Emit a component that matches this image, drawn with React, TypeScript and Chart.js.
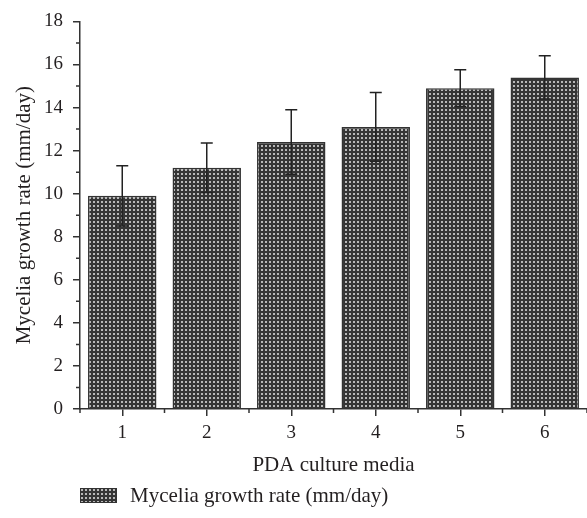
import React, { useEffect, useRef } from "react";
import { Chart, registerables } from "chart.js";

Chart.register(...registerables);

const categories = ["1", "2", "3", "4", "5", "6"];
const growthRate = [9.9, 11.2, 12.4, 13.1, 14.9, 15.4];
const growthErr = [1.4, 1.15, 1.5, 1.6, 0.85, 1.0];
const yTicks = [0, 2, 4, 6, 8, 10, 12, 14, 16, 18];
const seriesLabel = "Mycelia growth rate (mm/day)";
const xTitle = "PDA culture media";
const yTitle = "Mycelia growth rate (mm/day)";

const FONT = "'Liberation Serif', 'Times New Roman', serif";
const INK = "#231f20";
const LINE = "#333333";

function makePattern(): CanvasPattern | string {
  const c = document.createElement("canvas");
  c.width = 4;
  c.height = 4;
  const ctx = c.getContext("2d");
  if (!ctx) return "#555";
  ctx.fillStyle = "#353535";
  ctx.fillRect(0, 0, 4, 4);
  ctx.fillStyle = "#b8b8b8";
  ctx.fillRect(1, 1, 2, 2);
  const p = ctx.createPattern(c, "repeat");
  return p || "#555";
}

const errorBarPlugin = {
  id: "errorBars",
  afterDatasetsDraw(chart: any) {
    const ctx = chart.ctx;
    const meta = chart.getDatasetMeta(0);
    const y = chart.scales.y;
    ctx.save();
    ctx.strokeStyle = "#222";
    ctx.lineWidth = 1.5;
    meta.data.forEach((bar: any, i: number) => {
      const v = growthRate[i];
      const e = growthErr[i];
      const x = bar.x;
      const yt = y.getPixelForValue(v + e);
      const yb = y.getPixelForValue(v - e);
      ctx.beginPath();
      ctx.moveTo(x, yt);
      ctx.lineTo(x, yb);
      ctx.moveTo(x - 6, yt);
      ctx.lineTo(x + 6, yt);
      ctx.moveTo(x - 6, yb);
      ctx.lineTo(x + 6, yb);
      ctx.stroke();
    });
    ctx.restore();
  },
};

const minorTicksPlugin = {
  id: "minorTicks",
  afterDraw(chart: any) {
    const ctx = chart.ctx;
    const xs = chart.scales.x;
    const ys = chart.scales.y;
    const area = chart.chartArea;
    ctx.save();
    ctx.strokeStyle = LINE;
    ctx.lineWidth = 1.5;
    ctx.beginPath();
    for (let i = 0; i < yTicks.length - 1; i++) {
      const v = (yTicks[i] + yTicks[i + 1]) / 2;
      const py = ys.getPixelForValue(v);
      ctx.moveTo(area.left - 4, py);
      ctx.lineTo(area.left, py);
    }
    for (let i = 0; i <= categories.length; i++) {
      const px = xs.getPixelForValue(i - 0.5);
      ctx.moveTo(px, area.bottom);
      ctx.lineTo(px, area.bottom + 4);
    }
    ctx.stroke();
    ctx.restore();
  },
};

const legendPlugin = {
  id: "customLegend",
  afterDraw(chart: any) {
    const ctx = chart.ctx;
    const ds = chart.data.datasets[0];
    const left = chart.chartArea.left;
    const top = 488;
    ctx.save();
    ctx.fillStyle = ds.backgroundColor;
    ctx.fillRect(left, top, 37, 15);
    ctx.strokeStyle = LINE;
    ctx.lineWidth = 1;
    ctx.strokeRect(left + 0.5, top + 0.5, 36, 14);
    ctx.fillStyle = INK;
    ctx.font = `21px ${FONT}`;
    ctx.textBaseline = "middle";
    ctx.textAlign = "left";
    ctx.fillText(ds.label, left + 50, top + 8);
    ctx.restore();
  },
};

export default function App() {
  const ref = useRef<HTMLCanvasElement | null>(null);

  useEffect(() => {
    document.body.style.margin = "0";
    const canvas = ref.current;
    if (!canvas) return;
    const pattern = makePattern();
    const chart = new Chart(canvas, {
      type: "bar",
      data: {
        labels: categories,
        datasets: [
          {
            label: seriesLabel,
            data: growthRate,
            backgroundColor: pattern as any,
            borderColor: LINE,
            borderWidth: 1.5,
            barPercentage: 0.81,
            categoryPercentage: 1,
          },
        ],
      },
      options: {
        responsive: false,
        animation: false,
        layout: { padding: { top: 18, right: 0, left: 0, bottom: 0 } },
        plugins: {
          legend: { display: false },
          tooltip: { enabled: false },
        },
        scales: {
          x: {
            offset: true,
            grid: {
              offset: false,
              drawOnChartArea: false,
              drawTicks: true,
              tickLength: 7,
              color: LINE,
              lineWidth: 1.5,
            },
            border: { display: true, color: LINE, width: 1.5 },
            ticks: {
              color: INK,
              font: { family: FONT, size: 19 },
              padding: 6,
              maxRotation: 0,
            },
            title: {
              display: true,
              text: xTitle,
              color: INK,
              font: { family: FONT, size: 21 },
              padding: { top: 0, bottom: 40 },
            },
            afterFit: (s: any) => {
              s.height = 109;
            },
          },
          y: {
            min: 0,
            max: 18,
            afterBuildTicks: (s: any) => {
              s.ticks = yTicks.map((v) => ({ value: v }));
            },
            grid: {
              drawOnChartArea: false,
              drawTicks: true,
              tickLength: 7,
              color: LINE,
              lineWidth: 1.5,
            },
            border: { display: true, color: LINE, width: 1.5 },
            ticks: {
              color: INK,
              font: { family: FONT, size: 19 },
              padding: 10,
            },
            title: {
              display: true,
              text: yTitle,
              color: INK,
              font: { family: FONT, size: 21 },
              padding: { top: 12, bottom: 0 },
            },
            afterFit: (s: any) => {
              s.width = 80;
            },
          },
        },
      },
      plugins: [errorBarPlugin, minorTicksPlugin, legendPlugin],
    });
    return () => chart.destroy();
  }, []);

  return (
    <div style={{ width: 587, height: 518, background: "#fff" }}>
      <canvas ref={ref} width={587} height={518} style={{ display: "block" }} />
    </div>
  );
}
